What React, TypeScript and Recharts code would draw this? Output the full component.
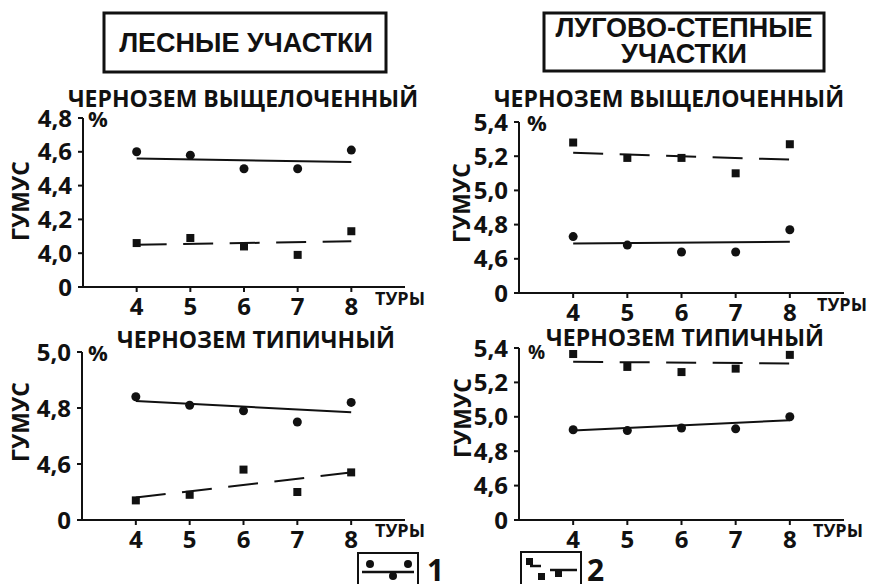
import React from 'react';
import { ComposedChart, Line, XAxis, YAxis } from 'recharts';

// туры (x)
const tours = [4, 5, 6, 7, 8];
const trendTours = [4, 8];

// лесные участки, чернозем выщелоченный
const forestLeached1 = [4.6, 4.58, 4.5, 4.5, 4.61];
const forestLeached2 = [4.06, 4.09, 4.04, 3.99, 4.13];
const forestLeachedTrend1 = [4.56, 4.54];
const forestLeachedTrend2 = [4.05, 4.07];

// лугово-степные участки, чернозем выщелоченный
const meadowLeached1 = [4.73, 4.68, 4.64, 4.64, 4.77];
const meadowLeached2 = [5.28, 5.19, 5.19, 5.1, 5.27];
const meadowLeachedTrend1 = [4.69, 4.7];
const meadowLeachedTrend2 = [5.22, 5.18];

// лесные участки, чернозем типичный
const forestTypical1 = [4.84, 4.81, 4.79, 4.75, 4.82];
const forestTypical2 = [4.47, 4.49, 4.58, 4.5, 4.57];
const forestTypicalTrend1 = [4.825, 4.785];
const forestTypicalTrend2 = [4.48, 4.57];

// лугово-степные участки, чернозем типичный
const meadowTypical1 = [4.925, 4.92, 4.935, 4.93, 5.0];
const meadowTypical2 = [5.365, 5.29, 5.26, 5.28, 5.36];
const meadowTypicalTrend1 = [4.92, 4.98];
const meadowTypicalTrend2 = [5.32, 5.31];

// шкалы с разрывом: нижний тик подписан "0"
const yTicksA = [3.8, 4.0, 4.2, 4.4, 4.6, 4.8];
const yLabelsA = ['0', '4,0', '4,2', '4,4', '4,6', '4,8'];
const yTicksB = [4.4, 4.6, 4.8, 5.0, 5.2, 5.4];
const yLabelsB = ['0', '4,6', '4,8', '5,0', '5,2', '5,4'];
const yTicksC = [4.4, 4.6, 4.8, 5.0];
const yLabelsC = ['0', '4,6', '4,8', '5,0'];

const toPoints = (xs: number[], ys: number[]) => xs.map((x, i) => ({ x, y: ys[i] }));

const INK = '#111';
const FONT = '"Open Sans", sans-serif';

const panels = [
  { key: 'fl', box: [83, 118, 405, 287], ticks: yTicksA, labels: yLabelsA, s1: forestLeached1, s2: forestLeached2, t1: forestLeachedTrend1, t2: forestLeachedTrend2 },
  { key: 'ml', box: [519, 122, 844, 293], ticks: yTicksB, labels: yLabelsB, s1: meadowLeached1, s2: meadowLeached2, t1: meadowLeachedTrend1, t2: meadowLeachedTrend2 },
  { key: 'ft', box: [82, 352, 405, 520], ticks: yTicksC, labels: yLabelsC, s1: forestTypical1, s2: forestTypical2, t1: forestTypicalTrend1, t2: forestTypicalTrend2 },
  { key: 'mt', box: [519, 348, 844, 520], ticks: yTicksB, labels: yLabelsB, s1: meadowTypical1, s2: meadowTypical2, t1: meadowTypicalTrend1, t2: meadowTypicalTrend2 },
];

const squareDot = (props: any) => (
  <rect key={`sq-${props.index}`} x={props.cx - 4} y={props.cy - 4} width={8} height={8} fill={INK} />
);

const tickStyle = { fill: INK, fontSize: 24, fontWeight: 700, fontFamily: FONT };
const axisStyle = { stroke: INK, strokeWidth: 2 };

function Panel({ p }: { p: (typeof panels)[number] }) {
  const [l, t, r, b] = p.box;
  const padL = 75, padT = 20, padR = 10, padB = 45;
  return (
    <div style={{ position: 'absolute', left: l - padL, top: t - padT }}>
      <ComposedChart
        width={r - l + padL + padR}
        height={b - t + padT + padB}
        margin={{ top: padT, right: padR, left: 0, bottom: 0 }}
      >
        <XAxis
          type="number"
          dataKey="x"
          domain={[3, 9]}
          ticks={tours}
          interval={0}
          allowDataOverflow
          height={padB}
          tickSize={5}
          tickMargin={6}
          axisLine={axisStyle}
          tickLine={axisStyle}
          tick={tickStyle}
        />
        <YAxis
          type="number"
          domain={[p.ticks[0], p.ticks[p.ticks.length - 1]]}
          ticks={p.ticks}
          interval={0}
          allowDataOverflow
          width={padL}
          tickSize={5}
          tickMargin={6}
          axisLine={axisStyle}
          tickLine={axisStyle}
          tick={tickStyle}
          tickFormatter={(_v: number, i: number) => p.labels[i]}
        />
        <Line data={toPoints(trendTours, p.t1)} dataKey="y" stroke={INK} strokeWidth={2} dot={false} isAnimationActive={false} />
        <Line data={toPoints(trendTours, p.t2)} dataKey="y" stroke={INK} strokeWidth={2} strokeDasharray="30 16.5" dot={false} isAnimationActive={false} />
        <Line data={toPoints(tours, p.s1)} dataKey="y" stroke="none" dot={{ r: 4.5, fill: INK, stroke: 'none' }} isAnimationActive={false} />
        <Line data={toPoints(tours, p.s2)} dataKey="y" stroke="none" dot={squareDot} isAnimationActive={false} />
      </ComposedChart>
    </div>
  );
}

const sub = { fontFamily: FONT, fontWeight: 700, fontSize: 23, fill: INK };
const head = { fontFamily: '"Liberation Sans", Arial, sans-serif', fontWeight: 700, fontSize: 27, fill: INK };
const small = { fontFamily: FONT, fontWeight: 700, fontSize: 18, fill: INK };

export default function App() {
  return (
    <div style={{ position: 'absolute', left: 0, top: 0, width: 874, height: 584, background: '#fff', overflow: 'hidden' }}>
      {panels.map((p) => (
        <Panel key={p.key} p={p} />
      ))}
      <svg width={874} height={584} style={{ position: 'absolute', left: 0, top: 0, pointerEvents: 'none' }}>
        <rect x={104} y={13} width={282} height={59} fill="none" stroke={INK} strokeWidth={3} />
        <text x={246} y={52} textAnchor="middle" style={head}>ЛЕСНЫЕ УЧАСТКИ</text>
        <rect x={544} y={13} width={280} height={58} fill="none" stroke={INK} strokeWidth={3} />
        <text x={684} y={37} textAnchor="middle" style={head}>ЛУГОВО-СТЕПНЫЕ</text>
        <text x={684} y={63} textAnchor="middle" style={head}>УЧАСТКИ</text>

        <text x={243} y={107} textAnchor="middle" style={sub}>ЧЕРНОЗЕМ ВЫЩЕЛОЧЕННЫЙ</text>
        <text x={669} y={107} textAnchor="middle" style={sub}>ЧЕРНОЗЕМ ВЫЩЕЛОЧЕННЫЙ</text>
        <text x={256} y={348} textAnchor="middle" style={sub}>ЧЕРНОЗЕМ ТИПИЧНЫЙ</text>
        <text x={685} y={346} textAnchor="middle" style={sub}>ЧЕРНОЗЕМ ТИПИЧНЫЙ</text>

        <text x={88} y={127} style={{ ...sub, fontSize: 22 }}>%</text>
        <text x={527} y={131} style={{ ...sub, fontSize: 22 }}>%</text>
        <text x={88} y={361} style={{ ...sub, fontSize: 22 }}>%</text>
        <text x={528} y={359} style={{ ...sub, fontSize: 19 }}>%</text>

        <text transform="translate(29 201) rotate(-90)" textAnchor="middle" style={sub}>ГУМУС</text>
        <text transform="translate(470 203) rotate(-90)" textAnchor="middle" style={sub}>ГУМУС</text>
        <text transform="translate(29 422) rotate(-90)" textAnchor="middle" style={sub}>ГУМУС</text>
        <text transform="translate(471 418) rotate(-90)" textAnchor="middle" style={sub}>ГУМУС</text>

        <text x={375} y={305} style={small}>ТУРЫ</text>
        <text x={817} y={311} style={small}>ТУРЫ</text>
        <text x={375} y={537} style={small}>ТУРЫ</text>
        <text x={813} y={537} style={small}>ТУРЫ</text>

        {/* легенда */}
        <rect x={358} y={553} width={60} height={40} fill="none" stroke={INK} strokeWidth={2} />
        <line x1={362} y1={572} x2={414} y2={572} stroke={INK} strokeWidth={2.5} />
        <circle cx={370} cy={564} r={4} fill={INK} />
        <circle cx={393} cy={576} r={4} fill={INK} />
        <circle cx={408} cy={564} r={4} fill={INK} />
        <text x={427} y={581} style={{ ...sub, fontSize: 30 }}>1</text>

        <rect x={521} y={552} width={60} height={40} fill="none" stroke={INK} strokeWidth={2} />
        <rect x={526} y={558} width={7} height={7} fill={INK} />
        <line x1={530} y1={566} x2={541} y2={566} stroke={INK} strokeWidth={2.5} />
        <rect x={538} y={573} width={7} height={7} fill={INK} />
        <line x1={550} y1={570} x2={577} y2={570} stroke={INK} strokeWidth={2.5} />
        <rect x={555} y={570} width={7} height={7} fill={INK} />
        <text x={587} y={581} style={{ ...sub, fontSize: 30 }}>2</text>
      </svg>
    </div>
  );
}
